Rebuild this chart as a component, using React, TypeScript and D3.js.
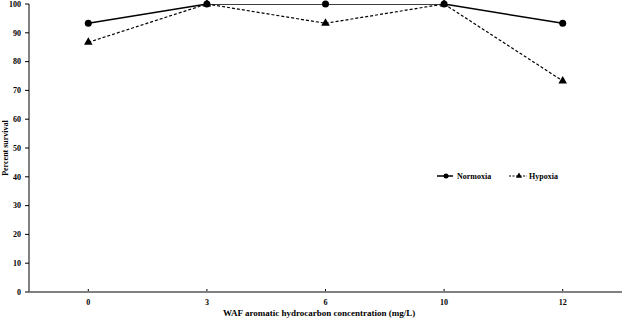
import React from "react";
import * as d3 from "d3";

const categories = ["0", "3", "6", "10", "12"];
const normoxia = [93.3, 100, 100, 100, 93.3];
const hypoxia = [86.7, 100, 93.3, 100, 73.3];
const yTicks = [0, 10, 20, 30, 40, 50, 60, 70, 80, 90, 100];

const W = 624, H = 319;
const left = 29, right = 622, top = 4, bottom = 292;
const font = "'Liberation Serif', 'Times New Roman', serif";

export default function App() {
  const x = d3.scaleBand().domain(categories).range([left, right]);
  const cx = (c: string) => (x(c) as number) + x.bandwidth() / 2;
  const y = d3.scaleLinear().domain([0, 100]).range([bottom, top]);
  const line = d3.line<number>().x((_, i) => cx(categories[i])).y((d) => y(d));
  const tri = d3.symbol().type(d3.symbolTriangle).size(32)();
  return (
    <svg width={W} height={H} style={{ position: "absolute", left: 0, top: 0, background: "#fff" }}>
      <defs>
        <clipPath id="plot"><rect x={left} y={top} width={right - left} height={bottom - top} /></clipPath>
      </defs>
      <line x1={left} x2={left} y1={top} y2={bottom} stroke="#808080" strokeWidth={2} />
      <line x1={left} x2={right} y1={bottom} y2={bottom} stroke="#808080" strokeWidth={2} />
      {yTicks.map((t) => (
        <g key={t}>
          <line x1={left - 4} x2={left} y1={y(t)} y2={y(t)} stroke="#000" strokeWidth={1} />
          <text x={left - 8} y={y(t)} dy="0.35em" textAnchor="end" fontFamily={font} fontSize={8} fontWeight="bold">{t}</text>
        </g>
      ))}
      {categories.map((c) => (
        <g key={c}>
          <line x1={cx(c)} x2={cx(c)} y1={bottom - 1} y2={bottom - 3} stroke="#000" strokeWidth={1} />
          <text x={cx(c)} y={305} textAnchor="middle" fontFamily={font} fontSize={8} fontWeight="bold">{c}</text>
        </g>
      ))}
      <text x={223} y={316} fontFamily={font} fontSize={9} fontWeight="bold">WAF aromatic hydrocarbon concentration (mg/L)</text>
      <text transform={`translate(8,${(top + bottom) / 2}) rotate(-90)`} textAnchor="middle" fontFamily={font} fontSize={8} fontWeight="bold">Percent survival</text>
      <g clipPath="url(#plot)">
        <path d={line(normoxia) as string} fill="none" stroke="#000" strokeWidth={1.5} />
        <path d={line(hypoxia) as string} fill="none" stroke="#000" strokeWidth={1.2} strokeDasharray="3,2" />
      </g>
      {normoxia.map((v, i) => (
        <circle key={"n" + i} cx={cx(categories[i])} cy={y(v)} r={3.5} fill="#000" />
      ))}
      {hypoxia.map((v, i) => (
        <path key={"h" + i} d={tri as string} transform={`translate(${cx(categories[i])},${y(v)})`} fill="#000" />
      ))}
      <g>
        <line x1={437} x2={453} y1={176} y2={176} stroke="#000" strokeWidth={1.5} />
        <circle cx={446} cy={176} r={2.5} fill="#000" />
        <text x={457} y={176} dy="0.35em" fontFamily={font} fontSize={8} fontWeight="bold">Normoxia</text>
        <line x1={509} x2={527} y1={176} y2={176} stroke="#000" strokeWidth={1} strokeDasharray="2,1.5" />
        <path d={d3.symbol().type(d3.symbolTriangle).size(16)() as string} transform="translate(519,176)" fill="#000" />
        <text x={529} y={176} dy="0.35em" fontFamily={font} fontSize={8} fontWeight="bold">Hypoxia</text>
      </g>
    </svg>
  );
}
